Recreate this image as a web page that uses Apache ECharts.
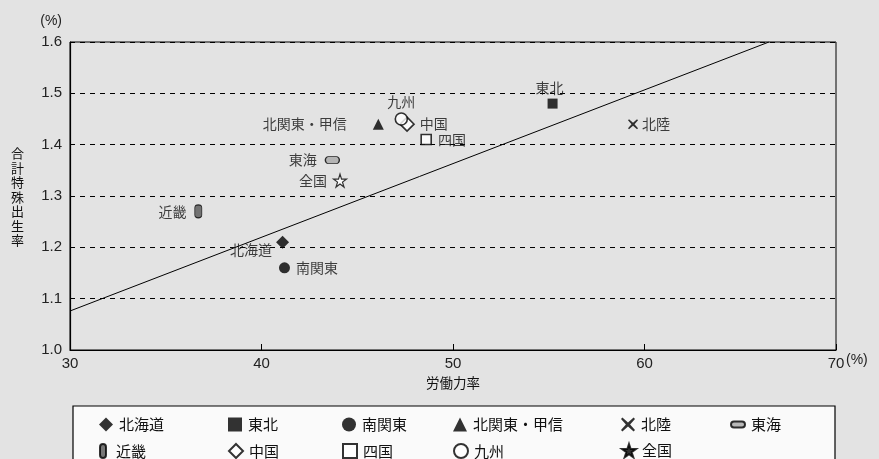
<!DOCTYPE html>
<html><head><meta charset="utf-8">
<script src="https://cdn.jsdelivr.net/npm/echarts@6/dist/echarts.min.js"></script>
<style>html,body{margin:0;padding:0;background:#e3e3e3;}#c{width:879px;height:459px;}</style>
</head><body><div id="c"></div>
<script>
const regions = ['北海道','東北','南関東','北関東・甲信','北陸','東海','近畿','中国','四国','九州','全国'];
const laborRate = [41.1, 55.2, 41.2, 46.1, 59.4, 43.7, 36.7, 47.6, 48.6, 47.3, 44.1];
const fertility = [1.21, 1.48, 1.16, 1.44, 1.44, 1.37, 1.27, 1.44, 1.41, 1.45, 1.33];
const trendX = [30, 66.5];
const trendY = [1.076, 1.6];
const xTicks = [30, 40, 50, 60, 70];
const yTicks = [1.0, 1.1, 1.2, 1.3, 1.4, 1.5, 1.6];
const legendRow1 = ['北海道','東北','南関東','北関東・甲信','北陸','東海'];
const legendRow2 = ['近畿','中国','四国','九州','全国'];
const legendColX = [106, 235, 349, 460, 628, 737];
const legendRowY = [424, 450];

const JP = '"Noto Sans CJK JP", sans-serif';
const STAR = 'path://M10,0 L12.25,6.91 L19.51,6.91 L13.63,11.18 L15.88,18.09 L10,13.82 L4.12,18.09 L6.37,11.18 L0.49,6.91 L7.75,6.91 Z';
const CROSS = 'path://M1,0 L5,3.5 L9,0 L10,1 L6.5,5 L10,9 L9,10 L5,6.5 L1,10 L0,9 L3.5,5 L0,1 Z';
const OVAL_H = 'path://M3,0 L11,0 A3,3 0 0 1 11,6 L3,6 A3,3 0 0 1 3,0 Z';
const OVAL_V = 'path://M0,3 A3,3 0 0 1 6,3 L6,11 A3,3 0 0 1 0,11 Z';

const styles = {
  '北海道': {symbol:'diamond', size:13, fill:'#000', label:{position:'left', offset:[0,7], distance:4}},
  '東北': {symbol:'rect', size:10, fill:'#000', label:{position:'top', offset:[-3,0], distance:4}},
  '南関東': {symbol:'circle', size:11, fill:'#000', label:{position:'right', distance:6}},
  '北関東・甲信': {symbol:'triangle', size:11, fill:'#000', label:{position:'left', distance:26}},
  '北陸': {symbol:CROSS, size:10, fill:'#000', label:{position:'right', distance:4}},
  '東海': {symbol:OVAL_H, size:[14,7], fill:'#a8a8a8', border:1, label:{position:'left', distance:8}},
  '近畿': {symbol:OVAL_V, size:[7,13], fill:'#555', border:1, label:{position:'left', distance:8}},
  '中国': {symbol:'diamond', size:14, fill:'#fff', border:1.6, label:{position:'right', distance:5}},
  '四国': {symbol:'rect', size:10, fill:'#fff', border:1.6, label:{position:'right', distance:6}},
  '九州': {symbol:'circle', size:12, fill:'#fff', border:1.6, label:{position:'top', distance:4}},
  '全国': {symbol:STAR, size:13, fill:'#fff', border:1.2, label:{position:'left', distance:6}}
};

const series = regions.map((name, i) => {
  const s = styles[name];
  return {
    name, type:'scatter', z:5,
    symbol:s.symbol, symbolSize:s.size,
    itemStyle:{color:s.fill, borderColor:'#000', borderWidth:s.border||0},
    data:[[laborRate[i], fertility[i]]],
    label:Object.assign({show:true, formatter:'{a}', color:'#111', fontSize:14, fontFamily:JP}, s.label)
  };
});
series.push({
  type:'line', name:'trend', symbol:'none', silent:true, z:3,
  lineStyle:{color:'#000', width:1},
  data: trendX.map((x, i) => [x, trendY[i]])
});

const legends = [];
[legendRow1, legendRow2].forEach((row, ri) => {
  row.forEach((n, ci) => {
    legends.push({
      left: legendColX[ci] - 7, top: legendRowY[ri] - 11,
      itemWidth:14, itemHeight:14, itemGap:0, padding:[4,0,4,0],
      selectedMode:false, z:10,
      textStyle:{fontSize:15, fontFamily:JP, color:'#111', padding:[0,0,0,1]},
      data:[n === '全国' ? {name:n, itemStyle:{color:'#000'}} : {name:n}]
    });
  });
});

const chart = echarts.init(document.getElementById('c'));
chart.setOption({
  backgroundColor:'#e3e3e3',
  animation:false,
  grid:{left:70, right:43, top:42, bottom:109, show:true, borderColor:'#000', borderWidth:1, backgroundColor:'transparent'},
  xAxis:{
    type:'value', min:xTicks[0], max:xTicks[xTicks.length-1], interval:10,
    name:'労働力率', nameLocation:'middle', nameGap:26,
    nameTextStyle:{fontSize:13.5, fontFamily:JP, color:'#111'},
    axisLine:{lineStyle:{color:'#000', width:1.2}},
    axisTick:{show:true, inside:true, length:6, lineStyle:{color:'#000'}},
    axisLabel:{fontSize:15, fontFamily:'"Liberation Sans", Arial', color:'#222', margin:6},
    splitLine:{show:false}
  },
  yAxis:{
    type:'value', min:yTicks[0], max:yTicks[yTicks.length-1], interval:0.1,
    name:'(%)', nameLocation:'end', nameGap:14,
    nameTextStyle:{fontSize:14, fontFamily:'"Liberation Sans", Arial', color:'#222', align:'right', padding:[0,8,0,0]},
    axisLine:{show:true, lineStyle:{color:'#000', width:1.2}},
    axisTick:{show:false},
    axisLabel:{fontSize:15, fontFamily:'"Liberation Sans", Arial', color:'#222', margin:8, formatter:v => v.toFixed(1)},
    splitLine:{show:true, lineStyle:{color:'#000', type:[5,5], width:1}}
  },
  legend:legends,
  graphic:[
    {type:'rect', z:1, shape:{x:73, y:406, width:762, height:70}, style:{fill:'#fafafa', stroke:'#000', lineWidth:1.2}},
    {type:'text', z:5, left:846, top:353, style:{text:'(%)', fontSize:14, fontFamily:'"Liberation Sans", Arial', fill:'#222'}},
    {type:'text', z:5, left:11, top:146, style:{text:'合\n計\n特\n殊\n出\n生\n率', fontSize:13, lineHeight:14.5, fontFamily:JP, fill:'#111'}}
  ],
  series
});
</script></body></html>
